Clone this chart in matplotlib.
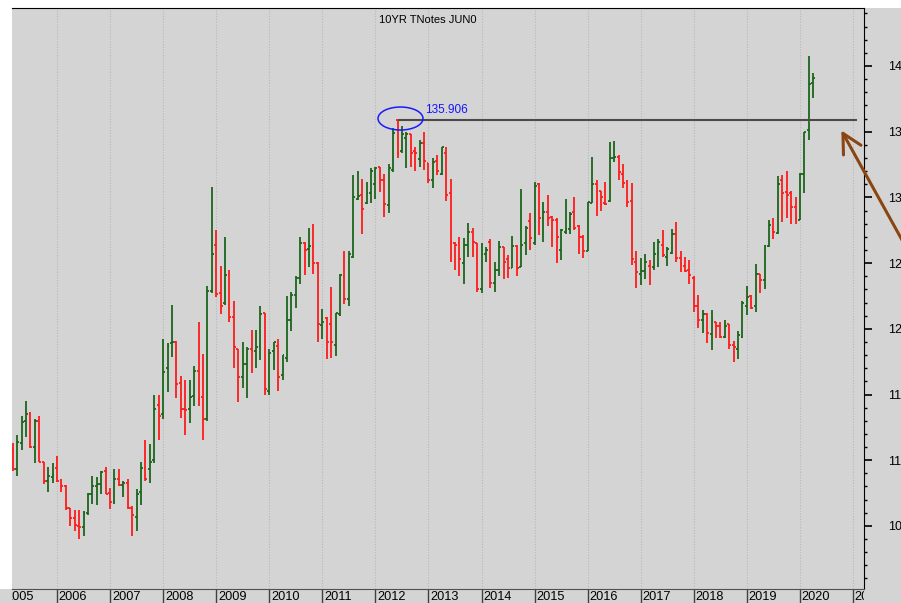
import matplotlib
matplotlib.use('Agg')
import matplotlib.pyplot as plt
import numpy as np
from matplotlib.patches import Ellipse, Rectangle
from matplotlib.transforms import Bbox, TransformedBbox
from matplotlib.ticker import MultipleLocator, FormatStrFormatter

plt.rcParams['font.family'] = ['Liberation Sans', 'DejaVu Sans']

# ---------------- data (monthly OHLC, first bar = March 2005) ----------------
first_year, first_month = 2005, 3
opens = [110.8, 109.3, 111.3, 113.0, 113.6, 111.0, 113.0, 109.9, 108.4, 108.7,
         109.4, 108.5, 108.0, 106.4, 105.6, 105.0, 104.9, 106.0, 107.4, 108.0,
         108.2, 109.2, 107.5, 106.8, 108.6, 108.1, 108.3, 106.4, 105.7, 107.6,
         109.4, 109.3, 110.0, 114.2, 113.5, 117.0, 118.9, 119.0, 115.9, 113.9,
         113.9, 114.9, 116.8, 114.8, 113.1, 122.9, 126.4, 122.7, 122.0, 124.2,
         120.9, 118.5, 116.3, 117.3, 118.5, 118.3, 118.7, 121.2, 115.3, 118.3,
         118.7, 116.5, 117.8, 120.7, 122.6, 123.9, 126.5, 126.1, 126.3, 125.0,
         120.3, 120.8, 120.4, 118.8, 121.1, 124.0, 122.3, 125.5, 129.9, 130.2,
         129.6, 130.3, 131.0, 132.3, 131.3, 129.4, 132.1, 135.85, 133.5, 134.5,
         134.8, 133.5, 132.9, 134.1, 132.6, 131.3, 132.8, 131.8, 133.4, 130.3,
         126.5, 126.5, 125.0, 126.4, 127.4, 126.5, 123.0, 125.7, 126.6, 123.5,
         124.5, 126.2, 125.3, 124.6, 126.3, 124.7, 126.5, 128.2, 126.5, 131.0,
         128.4, 128.9, 128.5, 128.3, 126.0, 127.4, 127.6, 128.9, 127.8, 127.0,
         125.9, 129.6, 131.0, 130.5, 129.6, 129.7, 133.0, 133.1, 131.8, 131.2,
         129.7, 125.1, 124.2, 124.4, 124.8, 124.7, 125.7, 126.4, 125.5, 125.8,
         127.2, 125.4, 124.8, 124.5, 123.9, 121.7, 120.7, 121.1, 119.6, 120.5,
         120.2, 119.4, 120.4, 118.8, 118.5, 119.4, 121.7, 122.5, 121.7, 124.2,
         123.7, 126.3, 127.6, 127.3, 131.3, 130.4, 130.3, 129.3, 128.3, 131.8,
         135.1, 138.7]
highs = [111.3, 111.9, 113.4, 114.5, 113.7, 113.1, 113.4, 109.9, 109.5, 109.8,
         110.3, 108.6, 108.1, 106.4, 106.2, 106.2, 106.1, 107.5, 108.8, 108.7,
         109.2, 109.5, 107.9, 109.3, 109.3, 108.4, 108.6, 106.5, 107.8, 109.9,
         111.5, 111.2, 115.0, 115.0, 119.2, 118.9, 121.8, 119.1, 116.4, 116.1,
         116.1, 117.2, 120.55, 118.1, 123.25, 130.8, 127.55, 124.8, 127.0, 124.5,
         122.1, 118.5, 119.0, 118.6, 119.9, 119.9, 121.7, 121.2, 118.5, 119.0,
         119.2, 118.0, 122.5, 122.8, 124.0, 127.0, 126.6, 127.7, 128.0, 125.1,
         121.5, 120.9, 123.2, 121.2, 124.2, 125.9, 125.9, 131.7, 132.0, 131.4,
         131.2, 132.25, 132.3, 132.3, 131.8, 132.55, 135.3, 135.906, 135.45, 135.0,
         134.8, 133.8, 134.4, 134.95, 132.6, 133.0, 133.2, 133.8, 133.8, 131.4,
         126.6, 127.0, 126.9, 128.05, 127.7, 126.5, 126.5, 126.2, 126.8, 125.1,
         126.7, 126.2, 125.6, 127.05, 126.4, 130.6, 127.8, 128.8, 131.2, 131.1,
         129.65, 130.15, 128.55, 128.4, 127.6, 129.9, 128.9, 130.0, 127.9, 127.1,
         129.65, 133.1, 131.3, 130.5, 131.2, 134.2, 134.3, 133.2, 132.55, 131.3,
         131.1, 125.9, 125.35, 125.7, 125.2, 126.6, 126.8, 127.55, 126.2, 127.6,
         128.1, 125.9, 125.5, 125.2, 124.0, 122.6, 121.4, 121.2, 121.4, 120.55,
         120.55, 120.7, 120.4, 119.05, 119.8, 122.1, 123.25, 122.6, 124.9, 124.2,
         126.4, 128.3, 128.4, 131.6, 131.7, 132.0, 130.5, 130.05, 131.85, 135.0,
         140.75, 139.5]
lows = [109.2, 108.8, 110.8, 111.8, 110.9, 109.8, 109.9, 108.2, 107.55, 108.3,
        108.35, 107.6, 106.2, 105.0, 104.6, 104.0, 104.2, 105.8, 106.7, 106.6,
        107.4, 107.4, 106.3, 106.7, 108.0, 107.2, 106.3, 104.2, 104.6, 106.6,
        108.4, 108.3, 109.8, 111.5, 113.1, 115.2, 117.85, 114.7, 113.2, 111.9,
        112.85, 114.1, 114.1, 111.5, 113.0, 122.75, 122.4, 121.1, 121.8, 120.55,
        117.0, 114.4, 115.5, 114.7, 116.6, 117.0, 117.6, 115.0, 115.0, 116.9,
        115.3, 116.1, 117.45, 119.8, 121.6, 123.4, 124.1, 124.7, 124.2, 119.0,
        119.2, 117.7, 117.8, 117.9, 121.0, 121.9, 121.7, 125.4, 129.8, 127.2,
        129.5, 129.6, 129.9, 130.4, 128.5, 128.8, 131.9, 133.0, 133.4, 132.2,
        132.3, 132.0, 132.3, 132.1, 131.1, 130.7, 131.7, 131.7, 129.7, 125.1,
        124.5, 124.0, 123.4, 125.5, 125.5, 122.8, 122.75, 125.1, 123.1, 122.8,
        124.0, 123.8, 123.9, 124.6, 124.0, 124.7, 125.6, 126.0, 126.4, 127.1,
        126.6, 127.8, 126.2, 125.0, 125.2, 127.2, 127.2, 127.55, 125.7, 125.4,
        125.9, 129.6, 128.55, 129.0, 129.4, 129.65, 132.7, 131.3, 130.7, 129.3,
        124.85, 123.1, 123.3, 123.8, 123.3, 124.5, 124.7, 125.5, 124.8, 125.7,
        125.1, 124.3, 124.3, 123.4, 121.3, 120.05, 119.7, 118.95, 118.35, 119.3,
        119.3, 119.3, 118.45, 117.45, 117.7, 119.3, 121.05, 121.5, 121.3, 122.75,
        123.0, 126.2, 126.8, 127.2, 128.1, 128.4, 128.0, 128.0, 128.3, 130.3,
        134.4, 137.55]
closes = [109.3, 111.4, 112.9, 113.5, 111.0, 113.0, 109.9, 108.4, 108.8, 108.9,
          108.4, 108.0, 106.4, 105.6, 105.1, 104.9, 106.0, 107.4, 108.0, 108.2,
          109.1, 107.4, 106.8, 108.6, 108.1, 108.3, 106.4, 105.8, 107.4, 109.4,
          108.6, 109.9, 113.9, 113.4, 116.7, 118.7, 119.0, 115.8, 113.9, 113.8,
          114.8, 116.8, 114.7, 113.1, 122.9, 125.7, 122.65, 121.7, 124.1, 120.9,
          118.65, 116.3, 117.3, 118.5, 118.3, 118.6, 121.1, 115.4, 118.15, 119.0,
          116.3, 118.0, 120.7, 122.6, 123.9, 126.5, 126.0, 126.3, 125.0, 120.4,
          120.5, 119.0, 119.0, 121.2, 124.1, 122.3, 125.7, 130.0, 130.1, 129.1,
          130.3, 132.0, 132.2, 131.3, 129.5, 132.2, 134.9, 133.35, 134.8, 134.8,
          133.4, 133.4, 134.1, 132.8, 131.3, 132.7, 132.0, 133.8, 130.2, 126.6,
          126.4, 125.3, 126.4, 127.4, 126.6, 123.0, 125.7, 126.0, 123.5, 124.5,
          126.2, 125.1, 124.6, 126.3, 124.6, 126.4, 127.7, 126.9, 130.9, 128.4,
          128.9, 128.4, 128.3, 127.0, 127.5, 127.6, 128.7, 127.7, 127.0, 125.9,
          129.65, 131.0, 130.4, 130.0, 129.5, 133.0, 133.1, 131.9, 131.1, 129.65,
          125.3, 124.3, 124.4, 125.1, 124.2, 125.7, 126.6, 125.6, 126.1, 127.2,
          125.4, 124.9, 124.4, 124.1, 121.7, 120.7, 121.1, 119.7, 120.7, 120.2,
          119.4, 120.2, 118.8, 118.6, 119.5, 122.0, 122.45, 121.6, 124.2, 123.7,
          126.3, 127.9, 127.4, 131.0, 130.3, 130.2, 129.3, 128.4, 131.8, 135.0,
          138.65, 139.1]

years = list(range(2005, 2022))
title_text = "10YR TNotes JUN0"
peak_value = 135.906
peak_label = "135.906"

# ---------------- style ----------------
BG = '#d4d4d4'
GREEN = '#1b661b'
RED = '#ff1c1c'
W, H = 901, 603

fig = plt.figure(figsize=(W / 100, H / 100), dpi=100)
fig.patch.set_facecolor('white')
fig.patches.append(Rectangle((0, 0), 1, 1 - 8 / H, transform=fig.transFigure,
                             facecolor=BG, edgecolor='none', zorder=-10))
fig.patches.append(Rectangle((0, 1 - 589 / H), 12 / W, (589 - 8) / H,
                             transform=fig.transFigure, facecolor='white',
                             edgecolor='none', zorder=-9))

ax = fig.add_axes([12 / W, 1 - 589 / H, (864 - 12) / W, (589 - 8) / H])
ax.set_facecolor(BG)

n = len(opens)
mi = np.arange(n) + (first_month - 1)
dates = first_year + mi / 12.0
o = np.array(opens); h = np.array(highs); l = np.array(lows); c = np.array(closes)
cols = [GREEN if cc >= oo else RED for oo, cc in zip(o, c)]
tl = 0.036
ax.vlines(dates, l, h, colors=cols, lw=1.3, zorder=3)
ax.hlines(o, dates - tl, dates, colors=cols, lw=1.3, zorder=3)
ax.hlines(c, dates, dates + tl, colors=cols, lw=1.3, zorder=3)

# spines
ax.spines['left'].set_visible(False)
ax.spines['top'].set_color('black')
ax.spines['right'].set_color('black')
ax.spines['bottom'].set_color('#505050')

# y axis on right
ax.yaxis.tick_right()
ax.yaxis.set_major_locator(MultipleLocator(5))
ax.yaxis.set_minor_locator(MultipleLocator(1))
ax.yaxis.set_major_formatter(FormatStrFormatter('%d'))
ax.tick_params(axis='y', which='major', length=6, width=1.2, pad=11.5,
               labelsize=9, colors='black')
ax.tick_params(axis='y', which='minor', length=2, width=1, colors='black')

# x axis years
ax.set_xticks(years)
ax.set_xticklabels([])
ax.tick_params(axis='x', which='major', length=10, width=1, colors='#404040')
ax.grid(axis='x', color='#b8b8b8', linestyle=(0, (1, 1.5)), lw=0.8, zorder=0)

ax.set_xlim(2005.152, 2021.207)
ax.set_ylim(100.2, 144.41)

clipbox = TransformedBbox(Bbox([[0, -0.2], [1, 1]]), ax.transAxes)
for yr in years:
    t = ax.text(yr + 0.035, -0.0145, str(yr), transform=ax.get_xaxis_transform(),
                ha='left', va='center', fontsize=9.2, color='black')
    t.set_clip_path(None)
    t.set_clip_box(clipbox)
    t.set_clip_on(True)

# title
ax.text(0.488, 0.979, title_text, transform=ax.transAxes, ha='center',
        va='center', fontsize=8, color='black')

# peak line, label and ellipse
peak_idx = highs.index(peak_value)
ax.hlines(peak_value, dates[peak_idx], 2021.074, colors='#4a4a4a', lw=1.5, zorder=4)
ax.text(2012.934, 136.65, peak_label, ha='left', va='center', fontsize=8.5,
        color='#1515ff')
ax.add_patch(Ellipse((2012.473, 136.0), 0.848, 1.75, fill=False,
                     edgecolor='#1a1aff', lw=1.1, zorder=5))

# brown arrow
ax.annotate('', xy=(840, H - 128), xytext=(912, H - 258), xycoords='figure pixels',
            textcoords='figure pixels', annotation_clip=False,
            arrowprops=dict(arrowstyle='->,head_length=1.38,head_width=0.72',
                            mutation_scale=10, color='#8B4513', lw=2.2))

fig.savefig('out.png', dpi=100, facecolor=fig.get_facecolor())
